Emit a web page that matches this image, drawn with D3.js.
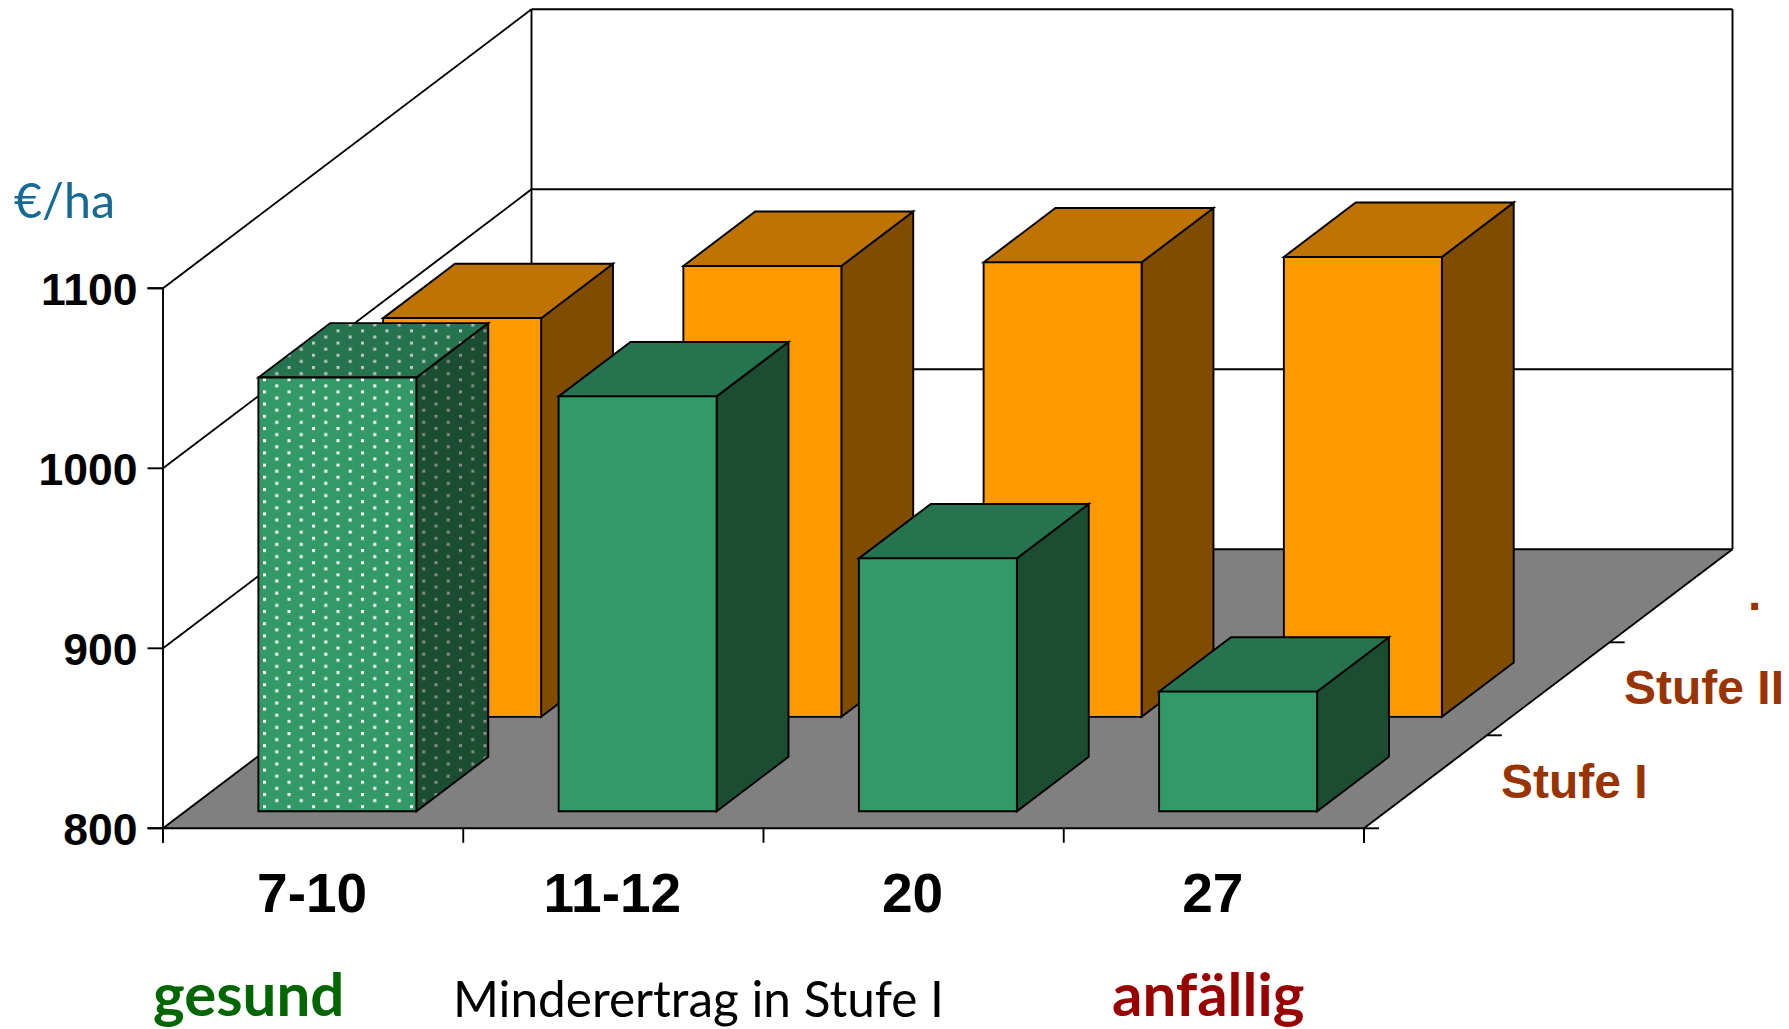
<!DOCTYPE html>
<html><head><meta charset="utf-8">
<script src="https://cdn.jsdelivr.net/npm/d3@7/dist/d3.min.js"></script>
<style>html,body{margin:0;padding:0;background:#fff;overflow:hidden}svg{display:block}</style>
</head><body><svg id="c" width="1789" height="1029"></svg>
<script>
const categories = ["7-10","11-12","20","27"];
const stufen = ["Stufe I","Stufe II","."];
const stufeIValues = [1041,1030.5,940.5,866.5];
const stufeIIValues = [1021.5,1050.5,1052.5,1055.5];
const yTicks = [800,900,1000,1100];

const svg = d3.select("#c");
const x = d3.scaleBand().domain(categories).range([163,1364]);
const y = d3.scaleLinear().domain([800,1100]).range([828.3,288.3]);
const depth = d3.scalePoint().domain(stufen).range([.1585,.8355]);
const DX = 368.5, DY = 279;           // floor depth vector
const barWidth = 158, barDepth = 0.195, inset = 72.9;

const px = (x0,d)=>x0+d*DX;
const py = (v,d)=>y(v)-d*DY;
const poly = pts=>pts.map(p=>p.join(",")).join(" ");

const defs = svg.append("defs");
function dots(id,bg,fg,ox,oy){
  const p = defs.append("pattern").attr("id",id).attr("patternUnits","userSpaceOnUse")
    .attr("width",24.5).attr("height",12.2).attr("x",ox).attr("y",oy);
  p.append("rect").attr("width",24.5).attr("height",12.2).attr("fill",bg);
  p.append("rect").attr("x",0).attr("y",0).attr("width",3).attr("height",3).attr("fill",fg);
  p.append("rect").attr("x",12.25).attr("y",6.1).attr("width",3).attr("height",3).attr("fill",fg);
}
dots("dotFront","#339966","#ffffff",263,390.4);
dots("dotTop","#267350","#c4c8c4",263,390.4);
dots("dotSide","#1b4d33","#8a8c8a",263,390.4);

const lw = 1.9;
const [x0R,x1R] = x.range();
svg.append("polygon").attr("fill","#808080")
  .attr("points",poly([[px(x0R,0),py(800,0)],[px(x1R,0),py(800,0)],[px(x1R,1),py(800,1)],[px(x0R,1),py(800,1)]]));

const grid = svg.append("g").attr("fill","none").attr("stroke","#000").attr("stroke-width",lw);
yTicks.forEach(v=>{
  grid.append("line").attr("x1",px(x0R,0)).attr("y1",py(v,0)).attr("x2",px(x0R,1)).attr("y2",py(v,1));
  grid.append("line").attr("x1",px(x0R,1)).attr("y1",py(v,1)).attr("x2",px(x1R,1)).attr("y2",py(v,1));
});
grid.append("line").attr("x1",px(x0R,1)).attr("y1",py(800,1)).attr("x2",px(x0R,1)).attr("y2",py(1100,1));
grid.append("line").attr("x1",px(x1R,1)).attr("y1",py(800,1)).attr("x2",px(x1R,1)).attr("y2",py(1100,1));
grid.append("line").attr("x1",px(x1R,0)).attr("y1",py(800,0)).attr("x2",px(x1R,1)).attr("y2",py(800,1));

const textFont = "'Liberation Sans',Arial,sans-serif";
const yAxis = svg.append("g").attr("transform",`translate(${x0R-0.5},-0.5)`)
  .call(d3.axisLeft(y).tickValues(yTicks).tickSize(15).tickPadding(10).tickFormat(d3.format("d")));
yAxis.selectAll("text").attr("font-family",textFont).attr("font-size",44.5).attr("font-weight","bold").attr("fill","#000").attr("dy","0.38em");
const xEdge = d3.scaleLinear().domain([0,categories.length]).range(x.range());
const xAxisTicks = svg.append("g").attr("transform",`translate(-0.5,${y(800)-0.5})`)
  .call(d3.axisBottom(xEdge).ticks(categories.length).tickSize(15).tickFormat(""));
const xAxisLabels = svg.append("g").attr("transform",`translate(-1,${y(800)})`)
  .call(d3.axisBottom(x).tickSize(0).tickPadding(45));
xAxisLabels.select(".domain").remove();
xAxisLabels.selectAll("text").attr("font-family",textFont).attr("font-size",55).attr("font-weight","bold").attr("fill","#000");
[yAxis,xAxisTicks].forEach(a=>{a.selectAll("line").attr("stroke","#000").attr("stroke-width",lw);
  a.select(".domain").attr("stroke","#000").attr("stroke-width",lw);});
const depthEdges = [0,1/3,2/3];
svg.append("g").selectAll("line").data(depthEdges).join("line")
  .attr("x1",d=>px(x1R,d)).attr("y1",d=>py(800,d)).attr("x2",d=>px(x1R,d)+15).attr("y2",d=>py(800,d))
  .attr("stroke","#000").attr("stroke-width",lw);

function drawBar(g,cat,val,sIdx,c){
  const d0 = depth(stufen[sIdx])-barDepth/2, d1 = d0+barDepth;
  const x0 = x(cat)+inset, x1 = x0+barWidth;
  const fl=px(x0,d0), fr=px(x1,d0), bl=px(x0,d1), br=px(x1,d1);
  const ft=py(val,d0), fb=py(800,d0), bt=py(val,d1), bb=py(800,d1);
  const s = {stroke:"#000","stroke-width":lw,"stroke-linejoin":"miter"};
  const add = (pts,fill)=>{const e=g.append("polygon").attr("points",poly(pts)).attr("fill",fill);
    Object.entries(s).forEach(([k,v])=>e.attr(k,v));};
  add([[fr,ft],[br,bt],[br,bb],[fr,fb]],c.side);
  add([[fl,ft],[fr,ft],[br,bt],[bl,bt]],c.top);
  add([[fl,ft],[fr,ft],[fr,fb],[fl,fb]],c.front);
}
const orange={front:"#ff9900",top:"#bf7300",side:"#7f4c00"};
const green={front:"#339966",top:"#267350",side:"#1b4d33"};
const dotted={front:"url(#dotFront)",top:"url(#dotTop)",side:"url(#dotSide)"};
const bars = svg.append("g");
categories.forEach((c,i)=>drawBar(bars,c,stufeIIValues[i],1,orange));
categories.forEach((c,i)=>drawBar(bars,c,stufeIValues[i],0,i===0?dotted:green));

const labelData = [{t:stufen[0],x:1501,y:798},{t:stufen[1],x:1624,y:704},{t:stufen[2],x:1748,y:610}];
svg.append("g").selectAll("text").data(labelData).join("text")
  .attr("x",d=>d.x).attr("y",d=>d.y).text(d=>d.t)
  .attr("font-family",textFont).attr("font-size",48).attr("font-weight","bold").attr("fill","#993300");

const calibri = "Lato,'Open Sans',sans-serif";
const notes = [
 {t:"€/ha",x:14,y:218,s:48.4,w:"normal",f:"#156a95"},
 {t:"gesund",x:153,y:1016,s:60,w:"bold",f:"#006600"},
 {t:"Minderertrag in Stufe I",x:453,y:1017,s:49.5,w:"normal",f:"#000"},
 {t:"anfällig",x:1112,y:1016,s:60,w:"bold",f:"#990000"}];
svg.append("g").selectAll("text").data(notes).join("text")
  .attr("x",d=>d.x).attr("y",d=>d.y).text(d=>d.t).attr("font-family",calibri)
  .attr("font-size",d=>d.s).attr("font-weight",d=>d.w).attr("fill",d=>d.f);
</script></body></html>
